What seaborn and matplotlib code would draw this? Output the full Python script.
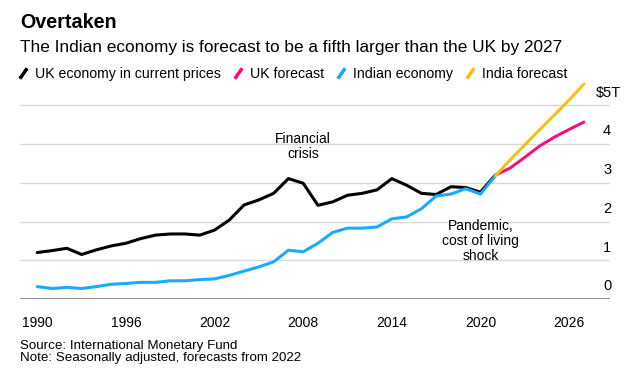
import matplotlib
matplotlib.use("Agg")
import matplotlib.pyplot as plt
import seaborn as sns
import pandas as pd
from matplotlib.lines import Line2D

# Data (trillions of US$)
years = list(range(1990, 2022))
uk_gdp = [1.20, 1.25, 1.31, 1.15, 1.27, 1.37, 1.44, 1.56, 1.65, 1.68, 1.68, 1.65,
          1.78, 2.04, 2.43, 2.56, 2.73, 3.11, 2.99, 2.42, 2.51, 2.68, 2.73, 2.82,
          3.11, 2.94, 2.73, 2.70, 2.90, 2.88, 2.76, 3.20]
india_gdp = [0.32, 0.27, 0.30, 0.27, 0.32, 0.38, 0.40, 0.43, 0.43, 0.47, 0.47, 0.50,
             0.52, 0.61, 0.72, 0.83, 0.96, 1.26, 1.22, 1.44, 1.72, 1.83, 1.83, 1.86,
             2.07, 2.12, 2.33, 2.66, 2.71, 2.85, 2.71, 3.18]
forecast_years = list(range(2021, 2028))
uk_forecast = [3.20, 3.38, 3.66, 3.95, 4.18, 4.38, 4.57]
india_forecast = [3.18, 3.59, 3.98, 4.37, 4.75, 5.14, 5.55]

xticks = [1990, 1996, 2002, 2008, 2014, 2020, 2026]
yticks = [0, 1, 2, 3, 4, 5]
ylabels = ["0", "1", "2", "3", "4", "$5T"]

series_names = ["UK economy in current prices", "UK forecast", "Indian economy", "India forecast"]
colors = ["#000000", "#f0147f", "#1aabff", "#f2c21b"]

hist = pd.DataFrame({"year": years, "UK economy in current prices": uk_gdp,
                     "Indian economy": india_gdp})
fc = pd.DataFrame({"year": forecast_years, "UK forecast": uk_forecast,
                   "India forecast": india_forecast})

sns.set_style("white")
plt.rcParams["font.family"] = ["Liberation Sans", "DejaVu Sans"]
plt.rcParams["text.color"] = "black"
plt.rcParams["xtick.color"] = "black"

fig = plt.figure(figsize=(6.4, 3.75), dpi=100)
ax = fig.add_axes([0.03125, 0.2027, 0.9219, 0.578])

for name, col in zip(series_names, colors):
    df = hist if name in hist.columns else fc
    sns.lineplot(data=df, x="year", y=name, color=col, linewidth=2.2, ax=ax,
                 solid_capstyle="round", zorder=3)

ax.set_xlim(1988.83, 2028.77)
ax.set_ylim(0, 5.6)
for s in ax.spines.values():
    s.set_visible(False)
ax.set_yticks(yticks)
ax.set_yticklabels([])
ax.tick_params(axis="y", length=0)
for v in yticks[1:]:
    ax.axhline(v, color="#d9d9d9", lw=1, zorder=1)
ax.axhline(0, color="#7a7a7a", lw=1.2, zorder=2)
ax.set_xticks(xticks)
ax.set_xticklabels([str(t) for t in xticks], fontsize=10)
ax.tick_params(axis="x", length=5, width=1, color="#7a7a7a", labelcolor="black", pad=7)
ax.set_xlabel("")
ax.set_ylabel("")

for v, lab in zip(yticks, ylabels):
    ax.text(0.995 if v < 5 else 0.998, v + 0.33, lab, transform=ax.get_yaxis_transform(),
            ha="center", va="center", fontsize=10.5)

ax.text(2008, 3.93, "Financial\ncrisis", ha="center", va="center", fontsize=10,
        linespacing=1.1)
ax.text(2020, 1.50, "Pandemic,\ncost of living\nshock", ha="center", va="center",
        fontsize=10, linespacing=1.1)

fig.text(0.031, 0.941, "Overtaken", fontsize=14.2, fontweight="bold", va="center")
fig.text(0.031, 0.873, "The Indian economy is forecast to be a fifth larger than the UK by 2027",
         fontsize=12.4, va="center")

handles = [Line2D([], [], color=c, marker=(2, 2, -35), markersize=9,
                  markeredgewidth=2.2, linestyle="none") for c in colors]
fig.legend(handles, series_names, loc="center left", bbox_to_anchor=(0.027, 0.803),
           ncol=4, frameon=False, fontsize=10.2, handlelength=0.8, handletextpad=0.45,
           columnspacing=0.8, borderaxespad=0, borderpad=0)

fig.text(0.031, 0.077, "Source: International Monetary Fund", fontsize=9.6, va="center")
fig.text(0.031, 0.045, "Note: Seasonally adjusted, forecasts from 2022", fontsize=9.6,
         va="center")

fig.savefig("out.png", dpi=100)
